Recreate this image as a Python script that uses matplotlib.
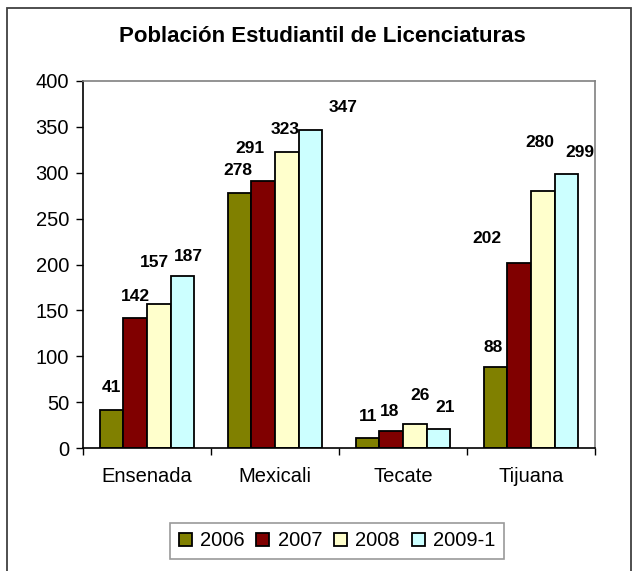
import matplotlib
matplotlib.use("Agg")
import matplotlib.pyplot as plt
from matplotlib.patches import Rectangle
import numpy as np

plt.rcParams['font.family'] = ['Liberation Sans', 'DejaVu Sans']

# data
campus = ["Ensenada", "Mexicali", "Tecate", "Tijuana"]
years = ["2006", "2007", "2008", "2009-1"]
v2006 = [41, 278, 11, 88]
v2007 = [142, 291, 18, 202]
v2008 = [157, 323, 26, 280]
v2009 = [187, 347, 21, 299]
series = [v2006, v2007, v2008, v2009]
colors = ["#808000", "#800000", "#FFFFCC", "#CCFFFF"]

# label nudges in pixels (dx, dy above bar top), per series then campus
nudges = [
    [(0, 23), (-2, 22), (0, 21), (-3, 20)],
    [(0, 21), (-13, 33), (-2, 20), (-32, 24)],
    [(-4, 41), (-2, 22), (5, 29), (-3, 49)],
    [(6, 20), (33, 22), (7, 21), (14, 21)],
]

fig = plt.figure(figsize=(6.37, 5.71), dpi=100)
ax = fig.add_axes([83 / 637, 1 - 448 / 571, 512 / 637, 367 / 571])

x = np.arange(len(campus))
w = 0.1836
for i, vals in enumerate(series):
    pos = x + (i - 1.5) * w
    ax.bar(pos, vals, width=w, color=colors[i], edgecolor="black",
           linewidth=1.3, label=years[i], zorder=2)
    for j, v in enumerate(vals):
        dx, dy = nudges[i][j]
        ax.annotate(str(v), (pos[j], v), xytext=(dx, dy),
                    textcoords="offset pixels", ha="center", va="center",
                    fontsize=12.5, fontweight="bold")

ax.set_xlim(-0.5, 3.5)
ax.set_ylim(0, 400)
ax.set_yticks(range(0, 401, 50))
ax.set_xticks(x)
ax.set_xticklabels(campus)
ax.set_xticks(np.arange(-0.5, 4, 1), minor=True)
ax.tick_params(axis="x", which="major", length=0, pad=14, labelsize=14.5)
ax.tick_params(axis="x", which="minor", length=5, width=1, direction="out")
ax.tick_params(axis="y", length=5, width=1, direction="out", pad=5, labelsize=14.5)

ax.spines["left"].set_color("black")
ax.spines["bottom"].set_color("black")
ax.spines["top"].set_color("#808080")
ax.spines["right"].set_color("#808080")
for s in ax.spines.values():
    s.set_linewidth(1.2)

fig.text(322 / 637, 1 - 36 / 571, "Población Estudiantil de Licenciaturas",
         ha="center", va="center", fontsize=16, fontweight="bold")

leg = fig.legend(loc="center", bbox_to_anchor=(337 / 637, 1 - 541 / 571),
                 ncol=4, fontsize=14.5, frameon=True, fancybox=False,
                 handlelength=0.65, handleheight=0.65, handletextpad=0.4,
                 columnspacing=0.6, borderpad=0.4)
leg.get_frame().set_edgecolor("#808080")
leg.get_frame().set_linewidth(1.2)

# outer chart border (cropped at the bottom)
fig.patches.append(Rectangle((7 / 637, -0.05), 624 / 637, 1.05 - 8 / 571,
                             transform=fig.transFigure, fill=False,
                             edgecolor="#404040", linewidth=1.3))

fig.savefig("out.png", dpi=100)
